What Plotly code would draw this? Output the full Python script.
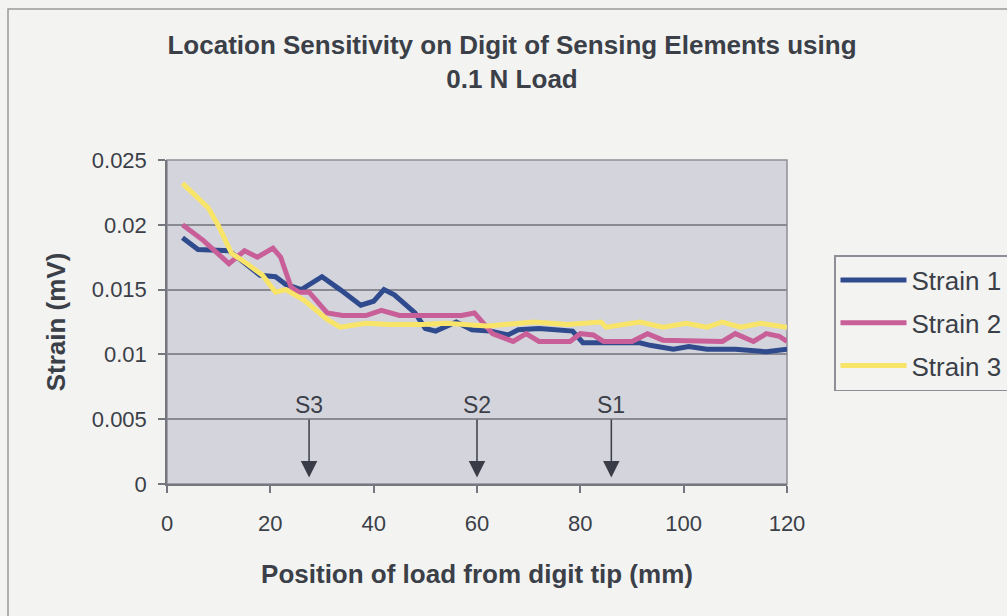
import plotly.graph_objects as go

# Strain readings (mV) against load position from the digit tip (mm)
pos_s1 = [3, 6, 12, 16, 18, 21, 23, 26, 30, 33.5, 37.5, 40, 42, 44, 48, 50, 52, 56, 59, 62.5,
          66, 68, 72, 78.5, 80.5, 84, 91.5, 93.5, 98, 101, 104.5, 110, 114, 116, 120]
strain_1 = [0.0190, 0.0181, 0.0180, 0.0168, 0.0161, 0.0160, 0.0154, 0.0150, 0.0160, 0.0150,
            0.0138, 0.0141, 0.0150, 0.0146, 0.0132, 0.0120, 0.0118, 0.0125, 0.0119, 0.0118,
            0.0115, 0.0119, 0.0120, 0.0118, 0.0109, 0.0109, 0.0109, 0.0107, 0.0104, 0.0106,
            0.0104, 0.0104, 0.0103, 0.0102, 0.0104]

pos_s2 = [3, 7, 12, 15, 17.5, 20.5, 22, 24, 25.5, 27.5, 31, 34, 38.5, 41.5, 45, 57, 59.5, 63,
          67, 69.5, 72, 78, 80, 82.5, 84.5, 90, 93, 96, 107.5, 110, 113.5, 116, 118.5, 120]
strain_2 = [0.0200, 0.0188, 0.0170, 0.0180, 0.0175, 0.0182, 0.0175, 0.0152, 0.0148, 0.0148,
            0.0132, 0.0130, 0.0130, 0.0134, 0.0130, 0.0130, 0.0132, 0.0116, 0.0110, 0.0116,
            0.0110, 0.0110, 0.0116, 0.0115, 0.0110, 0.0110, 0.0116, 0.0111, 0.0110, 0.0116,
            0.0110, 0.0116, 0.0114, 0.0110]

pos_s3 = [3, 8, 10, 12.5, 15.5, 18.5, 21, 23, 26.5, 31, 33.5, 38.5, 43, 49.5, 54, 62, 71, 77.5,
          84, 85, 91.5, 96, 100.5, 104.5, 107.5, 111, 115, 120]
strain_3 = [0.0232, 0.0213, 0.0199, 0.0178, 0.0170, 0.0161, 0.0148, 0.0150, 0.0142, 0.0127,
            0.0121, 0.0124, 0.0123, 0.0123, 0.0124, 0.0122, 0.0125, 0.0123, 0.0125, 0.0121,
            0.0125, 0.0121, 0.0124, 0.0121, 0.0125, 0.0121, 0.0124, 0.0121]

# Sensing element locations along the digit (mm)
sensor_names = ["S3", "S2", "S1"]
sensor_pos = [27.5, 60, 86]

series_names = ["Strain 1", "Strain 2", "Strain 3"]
series_colors = ["#2f4b8e", "#c95f98", "#f9e46a"]

TEXT = "#3b3f48"
FONT = "Liberation Sans, Arial, sans-serif"

fig = go.Figure()
for name, xs, ys, col in zip(series_names, [pos_s1, pos_s2, pos_s3],
                             [strain_1, strain_2, strain_3], series_colors):
    fig.add_trace(go.Scatter(x=xs, y=ys, name=name, mode="lines", legendgroup=name,
                             line=dict(color=col, width=5)))

for name, p in zip(sensor_names, sensor_pos):
    fig.add_annotation(x=p, y=0.0005, xref="x", yref="y",
                       ax=p, ay=0.0061, axref="x", ayref="y",
                       text=name, showarrow=True, arrowhead=2, arrowsize=2.2,
                       arrowwidth=1.5, arrowcolor="#3a3d48",
                       font=dict(family=FONT, size=23, color=TEXT))

# plot-area frame
fig.add_shape(type="rect", xref="paper", yref="paper", x0=0, y0=0, x1=1, y1=1,
              line=dict(color="#8e8e96", width=1.5), layer="below")
# chart border
fig.add_shape(type="rect", xref="paper", yref="paper",
              x0=(8 - 167) / 620, y0=(484 - 640) / 324, x1=(1030 - 167) / 620, y1=(484 - 9) / 324,
              line=dict(color="#9a9a9a", width=1.5))

fig.update_layout(
    width=1007, height=616,
    margin=dict(l=167, r=220, t=160, b=132, autoexpand=False),
    paper_bgcolor="#f3f3f2",
    plot_bgcolor="#d4d4dc",
    font=dict(family=FONT, size=22, color=TEXT),
    title=dict(text="Location Sensitivity on Digit of Sensing Elements using<br>0.1 N Load",
               x=512 / 1007, xanchor="center", y=1 - 54 / 616, yanchor="middle",
               font=dict(family=FONT, size=26, color=TEXT, weight="bold")),
    xaxis=dict(range=[0, 120], dtick=20, tick0=0, showgrid=False, zeroline=False,
               showline=True, linecolor="#76767e", linewidth=1.5,
               ticks="outside", ticklen=7, tickcolor="#76767e", tickwidth=1.5,
               tickfont=dict(size=22), ticklabelstandoff=12,
               title=dict(text="Position of load from digit tip (mm)", standoff=30,
                          font=dict(size=26, weight="bold"))),
    yaxis=dict(range=[0, 0.025], dtick=0.005, tick0=0, showgrid=True,
               gridcolor="#8a8a92", gridwidth=1.5, zeroline=False,
               showline=True, linecolor="#76767e", linewidth=1.5,
               ticks="outside", ticklen=7, tickcolor="#76767e", tickwidth=1.5,
               tickfont=dict(size=22), ticklabelstandoff=7,
               title=dict(text="Strain (mV)", standoff=19,
                          font=dict(size=26, weight="bold"))),
    legend=dict(xref="container", yref="container",
                x=834 / 1007, y=1 - 255 / 616, xanchor="left", yanchor="top",
                bgcolor="#f3f3f2", bordercolor="#8e8e96", borderwidth=1.5,
                font=dict(size=26, color=TEXT), itemwidth=66, tracegroupgap=6),
    showlegend=True,
)

fig.write_html("out.html")
